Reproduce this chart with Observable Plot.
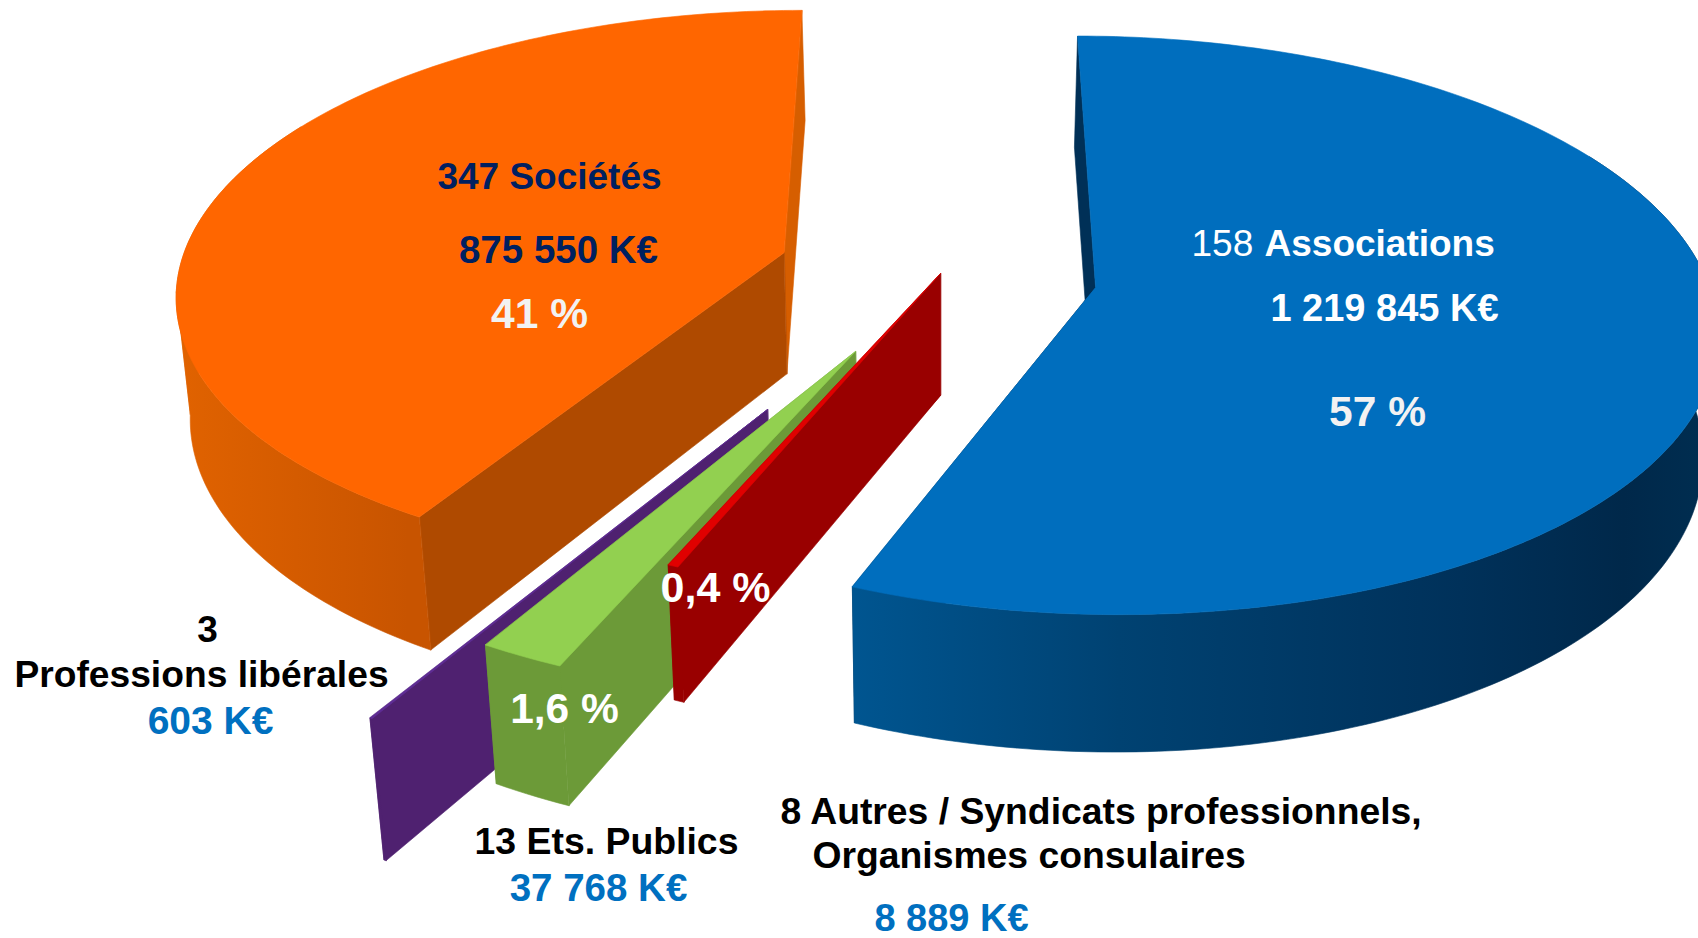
<!DOCTYPE html>
<html lang="fr"><head><meta charset="utf-8">
<style>html,body{margin:0;padding:0;background:#fff;overflow:hidden}svg{display:block}</style>
<script src="https://cdn.jsdelivr.net/npm/d3@7"></script>
<script src="https://cdn.jsdelivr.net/npm/@observablehq/plot@0.6"></script>
</head><body><div id="chart"></div>
<script>
// Data, clockwise from the back of the pie
const categories = ["Associations","Autres","Ets. Publics","Professions libérales","Sociétés"];
const amounts = [1219845, 8889, 37768, 603, 875550];

// Look of each slice
const topColors = ["#006EBE","#E00000","#92D050","#5F2D96","#FF6600"];
const startFaceColors = ["#003057","#990000","#6C9A38","#4F2170","#AF4A00"];
const endFaceColors = ["#003057","#990000","#6C9A38","#4F2170","#D65E00"];
const wallAngles = [[90,130,150,180,202],[0,360],[0,360],[0,360],[212,270]];
const wallColors = [["#002D50","#00284A","#00315A","#004272","#005590"],["#990000","#990000"],["#6C9A38","#6C9A38"],["#4F2170","#4F2170"],["#C85400","#E06200"]];
// Placement of each slice on the ground plane
const explodeU = [0.2526, 0, -0.1345, -0.2667, -0.259];
const explodeV = [0.049, 0, 0.2698, 0.4584, -0.075];
const radiusU = [1, 1, 1, 1, 0.993];
const radiusV = [1.006, 1, 1, 1, 1];
const startShift = [0, -2.7, -3.3, -2.45, -2.1];
const endShift = [-2.7, -3.3, -2.7, -2.35, 0];
const drawOrder = [4, 0, 3, 2, 1];
const wallRange = [60, 300];
const wallFolds = [86, 262];

// Camera
const cam = {cx: 940, cy: 273, rx: 610, ry: 279, p: 0.13, depth0: 25, depth1: 97, lean0: 0.018, lean1: 0.005};
const project = (u, v, down) => {
  const w = 1 / (1 - cam.p * v);
  const X = cam.cx + cam.rx * u * w, Y = cam.cy + cam.ry * v * w;
  return down ? [X + (cam.cx - X) * (cam.lean0 + cam.lean1 * Math.abs(v)), Y + cam.depth0 + cam.depth1 * w] : [X, Y];
};

// Slice angles come from the amounts
const total = d3.sum(amounts);
let run = 0;
const slices = amounts.map((a, i) => {
  const a0 = run / total * 360; run += a;
  const a1 = run / total * 360;
  return {i, a0: a0 + startShift[i], a1: a1 + endShift[i]};
});

const facets = [];
let fid = 0;
const addFacet = (points, color) => { const id = fid++; points.forEach(([x, y]) => facets.push({id, x, y, color})); };
const rimOf = k => deg => { const t = deg * Math.PI / 180; return [explodeU[k] + radiusU[k] * Math.sin(t), explodeV[k] - radiusV[k] * Math.cos(t)]; };
for (const k of drawOrder) {
  const s = slices[k], eu = explodeU[k], ev = explodeV[k], rim = rimOf(k);
  const steps = Math.max(1, Math.ceil(s.a1 - s.a0));
  const angles = d3.range(steps + 1).map(j => s.a0 + (s.a1 - s.a0) * j / steps);
  const front = angles.filter(d => d >= wallRange[0] && d <= wallRange[1]);
  const face = (deg, color) => {
    const [u, v] = rim(deg);
    addFacet([project(eu, ev, false), project(u, v, false), project(u, v, true), project(eu, ev, true)], color);
  };
  face(s.a1, endFaceColors[k]);
  face(s.a0, startFaceColors[k]);
  // The wall is split where it folds at the silhouette, so that it stays filled there
  const edges = [front[0], ...wallFolds.filter(d => d > front[0] && d < front[front.length - 1]), front[front.length - 1]];
  d3.pairs(edges).forEach(([lo, hi]) => {
    const panel = [lo, ...front.filter(d => d > lo && d < hi), hi];
    addFacet([...panel.map(d => project(...rim(d), false)), ...panel.slice().reverse().map(d => project(...rim(d), true))], `url(#wall-${k})`);
  });
  addFacet([project(eu, ev, false), ...angles.map(d => project(...rim(d), false))], topColors[k]);
}

// Side-wall shading, placed where each shading angle falls on screen
const wallGradients = () => {
  const defs = d3.create("svg:defs");
  amounts.forEach((_, k) => {
    const g = defs.append("linearGradient").attr("id", `wall-${k}`).attr("gradientUnits", "userSpaceOnUse")
      .attr("x1", 0).attr("x2", 1698).attr("y1", 0).attr("y2", 0);
    wallAngles[k].map((deg, j) => ({off: Math.min(1, Math.max(0, project(...rimOf(k)(deg), false)[0] / 1698)), c: wallColors[k][j]}))
      .sort((a, b) => a.off - b.off)
      .forEach(d => g.append("stop").attr("offset", d.off).attr("stop-color", d.c));
  });
  return defs.node();
};

// Labels
const navy = "#002060", azure = "#0070C0", pale = "#F2F2F2";
const labelText = ["347 Sociétés","875 550 K€","41 %","Associations","1 219 845 K€","57 %","3","Professions libérales","603 K€","1,6 %","0,4 %","13 Ets. Publics","37 768 K€","8 Autres / Syndicats professionnels,","Organismes consulaires","8 889 K€"];
const labelX = [549,558,539,1264,1384,1377,207,201,210,564,715,606,598,780,812,951];
const labelY = [177,250,314,244,308,412,630,675,721,709,588,842,888,812,856,918.5];
const labelFill = [navy,navy,pale,"white","white",pale,"black","black",azure,"white","white","black",azure,"black","black",azure];
const labelAnchor = ["middle","middle","middle","start","middle","middle","middle","middle","middle","middle","middle","middle","middle","start","start","middle"];
const labelSize = [37,38.5,42.5,37,38,42.5,37,37.2,39,42.5,43,37.4,38.5,37.3,37.3,38];
const labels = labelText.map((text, i) => ({text, x: labelX[i], y: labelY[i], fill: labelFill[i], anchor: labelAnchor[i], size: labelSize[i]}));
const font = "'Liberation Sans', Arial, sans-serif";

const textMark = (rows, weight, anchor) => Plot.text(rows, {x: "x", y: "y", text: "text", fill: "fill", fontSize: d => d.size, fontWeight: weight, textAnchor: anchor, lineAnchor: "middle", fontFamily: font});

document.getElementById("chart").append(Plot.plot({
  width: 1698, height: 938, margin: 0,
  x: {domain: [0, 1698], axis: null},
  y: {domain: [938, 0], axis: null},
  color: {type: "identity"},
  style: {background: "white"},
  marks: [
    wallGradients,
    Plot.line(facets, {x: "x", y: "y", z: "id", fill: "color", stroke: "color", strokeWidth: 0.6, curve: "linear-closed"}),
    textMark(labels.filter(d => d.anchor === "middle"), "bold", "middle"),
    textMark(labels.filter(d => d.anchor === "start"), "bold", "start"),
    Plot.text(["158"], {x: [1191], y: [244], text: d => d, fill: ["white"], fontSize: 37, fontWeight: "normal", textAnchor: "start", lineAnchor: "middle", fontFamily: font})
  ]
}));
</script></body></html>
